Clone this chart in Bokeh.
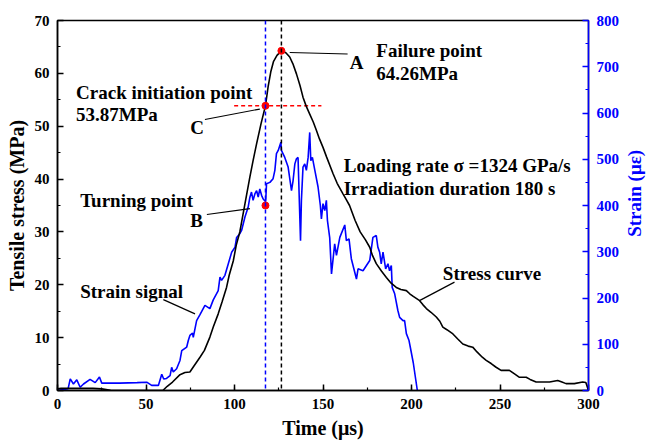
import math
from bokeh.plotting import figure
from bokeh.layouts import row
from bokeh.models import Range1d, LinearAxis, Label, Span
from bokeh.embed import file_html
from bokeh.resources import INLINE

# Stress history (time in µs, stress in MPa)
stress_t = [0, 2, 10, 20, 25, 30, 50, 59.5, 62, 65, 69.2, 72, 74.8, 77, 80.5, 83, 86.1, 88,
            90.8, 93, 95.5, 97, 99.3, 101, 103, 106, 108.7, 110.5, 112.5, 115, 117.5, 119,
            120.5, 122, 124, 126.5, 129, 131.2, 133, 135, 137, 138.7, 140.5, 142.5, 144.5,
            146.3, 148, 150, 152, 155.7, 158, 161.3, 163, 165, 168.1, 171, 174, 176.4, 178,
            180.1, 183, 185.8, 188.5, 191.4, 194, 197.1, 199, 201, 204.6, 206.5, 208.4, 211,
            214, 216, 217.7, 220, 223.4, 226, 229, 232, 234.6, 237, 240, 242.2, 245, 247.8,
            250.6, 253, 255.3, 258, 261, 264.8, 267, 270.4, 274, 278, 282.6, 285, 287.3, 292,
            296.7, 298.5, 300]
stress_v = [0.3, 0.4, 0.4, 0.4, 0.3, 0.05, 0, 0, 0.8, 1.6, 3.0, 3.4, 3.5, 4.6, 6.3, 7.6, 10.1, 12.0,
            14.5, 16.8, 19.5, 21.8, 24.5, 27.5, 30.0, 35.5, 40.4, 43.5, 46.7, 50.5, 53.87, 57.5,
            60.3, 62.2, 63.4, 64.26, 63.9, 63.1, 61.8, 59.9, 57.7, 55.5, 53.8, 52.3, 50.8,
            49.2, 47.6, 46.0, 44.2, 41.0, 39.2, 37.2, 36.2, 35.0, 32.2, 30.0, 28.5, 27.1, 25.5,
            24.0, 22.6, 21.4, 20.3, 19.5, 19.1, 18.9, 18.3, 17.8, 17.0, 16.2, 15.5, 14.8,
            13.9, 13.1, 12.0, 11.5, 10.7, 9.8, 8.8, 8.4, 8.2, 7.3, 6.3, 5.7, 5.1, 4.4,
            3.8, 3.8, 3.8, 3.2, 2.5, 2.5, 2.1, 1.6, 1.6, 1.6, 1.9, 1.6, 1.3, 1.3,
            1.6, 1.5, 0]

# Strain gauge signal (time in µs, strain in µε)
strain_t = [0, 6, 7.2, 9, 10.9, 12.8, 14.7, 18.4, 21.3, 23.7, 25, 35, 45, 50.4, 53.2, 57, 58.9,
            60, 61.6, 63.6, 64.5, 65.4, 67.3, 69.2, 70.2, 73, 73.9, 74.8, 76.3, 76.7, 78.6, 80.5,
            83.3, 86.1, 88, 90.8, 91.8, 92.7, 94.6, 96.5, 98.4, 100.3, 101.2, 103, 104, 105.9,
            107.7, 108.7, 109.6, 110.5, 111.5, 112.5, 113.4, 114.3, 115.3, 116.2, 117.6, 118.1,
            120, 121.8, 122.8, 123.7, 124.7, 126.2, 126.5, 128.4, 130.3, 132.2, 133.1, 134.1,
            135, 135.9, 137.3, 137.8, 138.7, 139.7, 140.6, 141.6, 142.5, 143.1, 144, 145.4,
            147.2, 148.5, 149.1, 150, 151, 151.9, 152.5, 153.8, 154.8, 156.6, 157.6, 159.5,
            162.3, 163.2, 164.7, 166, 168.9, 169.8, 172.6, 176.4, 178.2, 180.1, 181, 182,
            182.9, 183.9, 185.4, 186.7, 187.6, 188.6, 189.1, 190.5, 192.3, 193.3, 195.2,
            196.1, 197.1, 198.6, 199.3, 201, 203.3]
strain_v = [0, 4, 25, 14, 23, 7, 14, 24, 17, 29, 16, 16, 17, 18, 11, 11, 35,
            25, 26, 32, 50, 40, 47, 65, 86, 94, 108, 119, 124, 115, 151, 164,
            184, 177, 196, 216, 245, 238, 249, 274, 299, 310, 331, 339, 346, 375,
            396, 418, 429, 411, 425, 432, 418, 436, 422, 414, 408, 447,
            450, 458, 476, 512, 519, 537, 519, 504, 483, 432, 454, 490,
            501, 504, 324, 411, 483, 490, 476, 504, 558, 497, 504, 476,
            440, 400, 371, 404, 389, 411, 368, 330, 252, 317, 292, 331,
            358, 324, 328, 285, 241, 263, 259, 281, 331, 335, 310, 299,
            274, 299, 263, 274, 259, 270, 223, 209, 173, 158, 151,
            151, 123, 108, 94, 60, 0]

# Characteristic points
failure_t, failure_stress = 126.5, 64.26
crack_t, crack_stress = 117.5, 53.87
turning_t, turning_strain = 117.5, 400

FONT = "Liberation Serif"
BLUE = "#0000FF"

MAIN_W, TITLE_W, H = 622, 24, 441

p = figure(width=MAIN_W, height=H, output_backend="svg", toolbar_location=None,
           x_range=Range1d(0, 300), y_range=Range1d(0, 70),
           min_border_left=57, min_border_right=MAIN_W - 588,
           min_border_top=20, min_border_bottom=51)
p.extra_y_ranges = {"strain": Range1d(0, 800)}
p.background_fill_color = "white"
p.border_fill_color = "white"
p.outline_line_color = "black"
p.outline_line_width = 1.5
p.xgrid.visible = False
p.ygrid.visible = False


def style_axis(ax, color):
    ax.axis_line_color = color
    ax.axis_line_width = 1.5
    ax.major_tick_line_color = color
    ax.minor_tick_line_color = color
    ax.major_tick_line_width = 1.5
    ax.minor_tick_line_width = 1.2
    ax.major_tick_in = 6
    ax.major_tick_out = 0
    ax.minor_tick_in = 3
    ax.minor_tick_out = 0
    ax.major_label_text_font = FONT
    ax.major_label_text_font_style = "bold"
    ax.major_label_text_font_size = "15px"
    ax.major_label_text_color = color
    ax.major_label_standoff = 8
    ax.axis_label_text_font = FONT
    ax.axis_label_text_font_style = "bold"
    ax.axis_label_text_font_size = "20px"
    ax.axis_label_text_color = color
    ax.axis_label_standoff = 5


p.xaxis.axis_label = "Time (μs)"
p.yaxis.axis_label = "Tensile stress (MPa)"
p.xaxis.ticker.desired_num_ticks = 6
p.xaxis.ticker.num_minor_ticks = 2
p.yaxis.ticker.num_minor_ticks = 2
style_axis(p.xaxis[0], "black")
style_axis(p.yaxis[0], "black")
p.yaxis.axis_label_standoff = 4

right_axis = LinearAxis(y_range_name="strain")
right_axis.ticker.num_minor_ticks = 2
style_axis(right_axis, BLUE)
p.add_layout(right_axis, "right")

# Reference lines
p.add_layout(Span(location=crack_t, dimension="height", line_color=BLUE,
                  line_dash="4 3", line_width=1.5))
p.add_layout(Span(location=failure_t, dimension="height", line_color="black",
                  line_dash="4 3", line_width=1.5))
p.line([99.8, 149.1], [crack_stress, crack_stress], line_color="red",
       line_dash="4 3", line_width=1.5)

# Curves
p.line(strain_t, strain_v, y_range_name="strain", line_color=BLUE, line_width=1.6)
p.line(stress_t, stress_v, line_color="black", line_width=1.6)

# Characteristic points
p.scatter([failure_t, crack_t], [failure_stress, crack_stress], size=7, color="red")
p.scatter([turning_t], [turning_strain], y_range_name="strain", size=7, color="red")

# Leader lines
leaders = [
    ([131.2, 163.9], [63.95, 63.66]),
    ([83.3, 114.3], [51.27, 53.25]),
    ([84.4, 108.7], [33.3, 34.4]),
    ([59.8, 77.7], [17.2, 14.5]),
    ([224.3, 204.5], [20.5, 17.0]),
]
for lx, ly in leaders:
    p.line(lx, ly, line_color="black", line_width=1.2)

texts = [
    ("Failure point", 180.1, 64.3),
    ("64.26MPa", 180.1, 60.0),
    ("A", 165.1, 62.1),
    ("Crack initiation point", 10.5, 56.4),
    ("53.87MPa", 10.5, 52.2),
    ("C", 75.0, 49.75),
    ("Turning point", 12.8, 35.9),
    ("B", 75.0, 32.2),
    ("Strain signal", 12.8, 18.7),
    ("Stress curve", 217.7, 22.1),
    ("Loading rate σ =1324 GPa/s", 161.7, 42.6),
    ("Irradiation duration 180 s", 161.7, 38.2),
]
for t, x, y in texts:
    p.add_layout(Label(x=x, y=y, text=t, text_font=FONT, text_font_style="bold",
                       text_font_size="19px", text_color="black",
                       text_baseline="alphabetic", text_align="left"))

# Narrow strip holding the right-hand axis title, reading bottom to top
q = figure(width=TITLE_W, height=H, output_backend="svg", toolbar_location=None,
           x_range=Range1d(0, TITLE_W), y_range=Range1d(0, H),
           min_border=0, outline_line_color=None)
q.xaxis.visible = False
q.yaxis.visible = False
q.xgrid.visible = False
q.ygrid.visible = False
q.add_layout(Label(x=12, y=H - 206, text="Strain (με)", angle=math.pi / 2,
                   text_font=FONT, text_font_style="bold", text_font_size="19px",
                   text_color=BLUE, text_align="center", text_baseline="middle"))

layout = row(p, q, spacing=0)
open("out.html", "w").write(file_html(layout, INLINE))
